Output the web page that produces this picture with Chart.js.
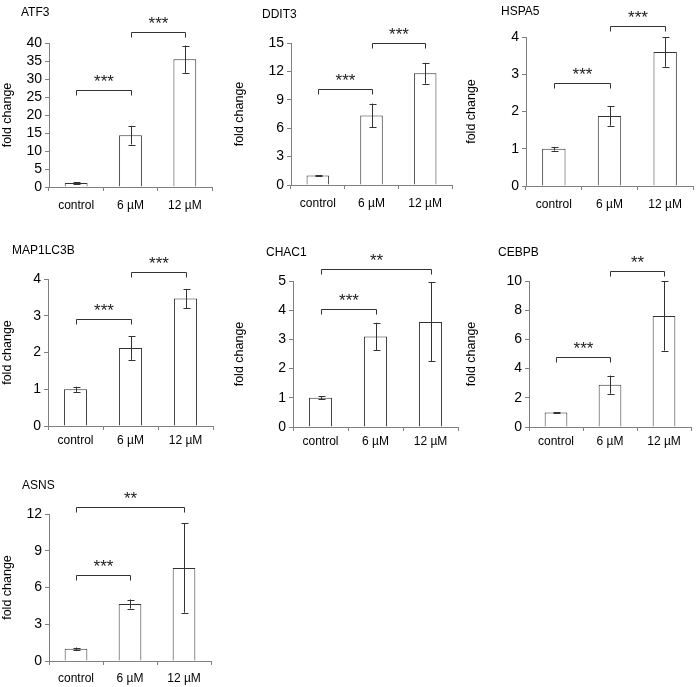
<!DOCTYPE html>
<html>
<head>
<meta charset="utf-8">
<script src="https://cdn.jsdelivr.net/npm/chart.js@4.4.1/dist/chart.umd.min.js"></script>
<style>
    body { margin: 0; background: #fff; width: 697px; height: 687px; position: relative; overflow: hidden; }
    canvas { position: absolute; }
</style>
</head>
<body>
<script>
// categories shared by every panel
const categories = ['control', '6 µM', '12 µM'];
const genes = ['ATF3', 'DDIT3', 'HSPA5', 'MAP1LC3B', 'CHAC1', 'CEBPB', 'ASNS'];

// mean fold change and error bar half-length per gene
const atf3 = [1.1, 14.4, 35.5];
const atf3Err = [0.2, 2.6, 3.8];
const ddit3 = [1.0, 7.35, 11.8];
const ddit3Err = [0.05, 1.25, 1.1];
const hspa5 = [1.0, 1.88, 3.6];
const hspa5Err = [0.05, 0.26, 0.4];
const map1lc3b = [1.0, 2.12, 3.47];
const map1lc3bErr = [0.07, 0.32, 0.26];
const chac1 = [1.0, 3.1, 3.6];
const chac1Err = [0.05, 0.47, 1.35];
const cebpb = [1.0, 2.9, 7.6];
const cebpbErr = [0.03, 0.62, 2.37];
const asns = [1.0, 4.65, 7.6];
const asnsErr = [0.1, 0.37, 3.65];

// y axis range and tick step per gene
const yMax = [40, 15, 4, 4, 5, 10, 12];
const yStep = [5, 3, 1, 1, 1, 2, 3];

// significance brackets: [from, to, height in data units, stars]
const atf3Sig = [[0, 1, 26.9, '***'], [1, 2, 43, '***']];
const ddit3Sig = [[0, 1, 10.1, '***'], [1, 2, 15.05, '***']];
const hspa5Sig = [[0, 1, 2.77, '***'], [1, 2, 4.3, '***']];
const map1lc3bSig = [[0, 1, 2.91, '***'], [1, 2, 4.19, '***']];
const chac1Sig = [[0, 1, 4.04, '***'], [0, 2, 5.41, '**']];
const cebpbSig = [[0, 1, 4.8, '***'], [1, 2, 10.7, '**']];
const asnsSig = [[0, 1, 7.0, '***'], [0, 2, 12.6, '**']];

const means = [atf3, ddit3, hspa5, map1lc3b, chac1, cebpb, asns];
const errs = [atf3Err, ddit3Err, hspa5Err, map1lc3bErr, chac1Err, cebpbErr, asnsErr];
const sigs = [atf3Sig, ddit3Sig, hspa5Sig, map1lc3bSig, chac1Sig, cebpbSig, asnsSig];

// panel placement (canvas x/y, width, chart area L/T/R/B inside canvas, title pos, label gap)
const panels = [
    { x: 0, y: 0, w: 232, L: 49, T: 43, R: 212, B: 187, tx: 21, ty: 13, lg: 7 },
    { x: 232, y: 0, w: 232, L: 59, T: 43, R: 220, B: 185, tx: 30, ty: 15, lg: 7 },
    { x: 464, y: 0, w: 233, L: 62, T: 37, R: 229, B: 186, tx: 37, ty: 12, lg: 7 },
    { x: 0, y: 220, w: 232, L: 48, T: 59, R: 213, B: 206, tx: 12, ty: 31, lg: 3 },
    { x: 232, y: 220, w: 232, L: 61, T: 61, R: 226, B: 207, tx: 34, ty: 33, lg: 3 },
    { x: 464, y: 220, w: 233, L: 65, T: 61, R: 227, B: 207, tx: 34, ty: 33, lg: 3 },
    { x: 0, y: 450, w: 232, L: 49, T: 64, R: 211, B: 211, tx: 22, ty: 36, lg: 6 },
];

const FONT = '"Liberation Sans", Arial, sans-serif';
const AXIS = '#808080';

const extras = {
    id: 'extras',
    afterDatasetsDraw(chart, args, opts) {
        const ctx = chart.ctx;
        const y = chart.scales.y;
        const bars = chart.getDatasetMeta(0).data;
        ctx.save();
        ctx.strokeStyle = '#333';
        ctx.lineWidth = 1;
        // error bars
        opts.err.forEach((e, i) => {
            const x = Math.round(bars[i].x) + 0.5;
            const m = opts.mean[i];
            const top = y.getPixelForValue(m + e);
            const bot = y.getPixelForValue(m - e);
            ctx.beginPath();
            ctx.moveTo(x, top); ctx.lineTo(x, bot);
            ctx.moveTo(x - 3, Math.round(top) + 0.5); ctx.lineTo(x + 4, Math.round(top) + 0.5);
            ctx.moveTo(x - 3, Math.round(bot) + 0.5); ctx.lineTo(x + 4, Math.round(bot) + 0.5);
            ctx.stroke();
        });
        // brackets and stars
        ctx.fillStyle = '#222';
        ctx.font = '17px ' + FONT;
        ctx.textAlign = 'center';
        ctx.textBaseline = 'alphabetic';
        opts.sig.forEach(([a, b, v, stars]) => {
            const x1 = Math.round(bars[a].x) + 0.5;
            const x2 = Math.round(bars[b].x) + 0.5;
            const yb = Math.round(y.getPixelForValue(v)) + 0.5;
            ctx.beginPath();
            ctx.moveTo(x1, yb + 5); ctx.lineTo(x1, yb); ctx.lineTo(x2, yb); ctx.lineTo(x2, yb + 5);
            ctx.stroke();
            ctx.fillText(stars, (x1 + x2) / 2, yb - 4);
        });
        // panel title
        ctx.fillStyle = '#000';
        ctx.font = '12px ' + FONT;
        ctx.textAlign = 'left';
        ctx.textBaseline = 'middle';
        ctx.fillText(opts.title, opts.tx, opts.ty);
        ctx.restore();
    }
};

panels.forEach((p, i) => {
    const canvas = document.createElement('canvas');
    const h = p.B + 30;
    canvas.width = p.w;
    canvas.height = h;
    canvas.style.left = p.x + 'px';
    canvas.style.top = p.y + 'px';
    canvas.style.width = p.w + 'px';
    canvas.style.height = h + 'px';
    document.body.appendChild(canvas);

    new Chart(canvas, {
        type: 'bar',
        data: {
            labels: categories,
            datasets: [{
                data: means[i],
                backgroundColor: '#fff',
                borderColor: '#333',
                borderWidth: 1,
                barPercentage: 0.42,
                categoryPercentage: 1,
            }],
        },
        options: {
            responsive: false,
            animation: false,
            devicePixelRatio: 1,
            layout: { padding: { left: 0, top: p.T, right: p.w - p.R, bottom: 0 } },
            plugins: {
                legend: { display: false },
                tooltip: { enabled: false },
                extras: { mean: means[i], err: errs[i], sig: sigs[i], title: genes[i], tx: p.tx, ty: p.ty },
            },
            scales: {
                x: {
                    grid: { drawOnChartArea: false, tickLength: 4, color: AXIS },
                    border: { color: AXIS },
                    ticks: { color: '#000', font: { family: FONT, size: 12 }, padding: p.lg },
                    afterFit: (s) => { s.height = 30; },
                },
                y: {
                    min: 0,
                    max: yMax[i],
                    ticks: { stepSize: yStep[i], autoSkip: false, color: '#000', font: { family: FONT, size: 14 }, padding: 3 },
                    grid: { drawOnChartArea: false, tickLength: 4, color: AXIS },
                    border: { color: AXIS },
                    title: { display: true, text: 'fold change', color: '#000', font: { family: FONT, size: 12.5 }, padding: 0 },
                    afterFit: (s) => { s.width = p.L; },
                },
            },
        },
        plugins: [extras],
    });
});
</script>
</body>
</html>
